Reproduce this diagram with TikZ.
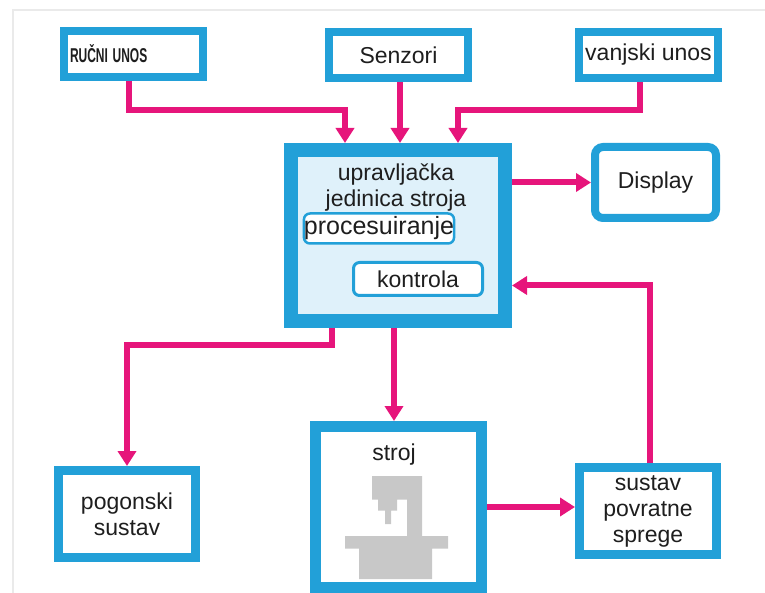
\documentclass[tikz,border=0pt]{standalone}
\usepackage{fontspec}
\setmainfont{Liberation Sans}
\usetikzlibrary{arrows.meta}
\definecolor{boxblue}{HTML}{22A0D8}
\definecolor{arrowpink}{HTML}{E6157B}
\definecolor{panel}{HTML}{DFF1FA}
\definecolor{machgray}{HTML}{C8C8C8}
\definecolor{framegray}{HTML}{EAEAEA}
\definecolor{txt}{HTML}{1E1E1E}
\tikzset{b/.style={rectangle,draw=boxblue,fill=white,line width=8pt,text=txt,align=center,inner sep=0pt}}
\tikzset{s/.style={rectangle,draw=boxblue,fill=white,line width=2.5pt,rounded corners=6pt,text=txt,inner sep=0pt}}
\tikzset{f/.style={draw=arrowpink,line width=6pt,-{Triangle[width=18pt,length=15pt]}}}

\begin{document}
\begin{tikzpicture}[x=1pt,y=-1pt,font=\fontsize{23pt}{26pt}\selectfont]
      \useasboundingbox (0,0) rectangle (765,593);
      \draw[framegray,line width=1.5pt] (765,10) -- (13,10) -- (13,593);
      % inputs
      \node[b,minimum width=139pt,minimum height=46pt,text width=127pt,align=left] (rucni) at (133.5,54) {\fontsize{20pt}{22pt}\selectfont\scalebox{0.6}[1]{\bfseries RUČNI UNOS}};
      \node[b,minimum width=139pt,minimum height=46pt] (senzori) at (398.5,55) {Senzori};
      \node[b,minimum width=139pt,minimum height=46pt] (vanjski) at (648.5,55) {vanjski unos};
      % control unit
      \node[b,line width=14pt,fill=panel,minimum width=214pt,minimum height=171pt] (main) at (398,235.5) {};
      \node[text=txt,align=center,inner sep=0pt] (naslov) at (396,188) {upravljačka\\jedinica stroja};
      \node[s,minimum width=143pt,minimum height=30pt,font=\fontsize{25pt}{28pt}\selectfont] (proc) at (379,228.5) {procesuiranje};
      \node[s,line width=3pt,minimum width=129pt,minimum height=33pt] (kontrola) at (418,279) {kontrola};
      \node[b,rounded corners=8pt,minimum width=121pt,minimum height=71pt] (display) at (655.5,182.5) {Display};
      % outputs
      \node[b,line width=9pt,minimum width=137pt,minimum height=87pt] (pogon) at (127,514) {pogonski\\sustav};
      \node[b,line width=11pt,minimum width=166pt,minimum height=161pt] (stroj) at (398.5,507) {};
      \node[text=txt,inner sep=0pt] (strojtxt) at (394,455) {stroj};
      \node[b,line width=9pt,minimum width=137pt,minimum height=87pt] (sprege) at (648,511) {sustav\\povratne\\sprege};
      % machine icon
      \fill[machgray] (372,476) rectangle (422,499.5) (378,499) rectangle (397,510.5) (385,510) rectangle (391,524)
        (407,499) rectangle (422,536.5) (345,536) rectangle (448,548.5) (359,548) rectangle (432,579);
        \draw[f] ([xshift=-5pt]rucni.south) |- ([xshift=-53pt,yshift=33pt]main.north) -- ([xshift=-53pt]main.north);
        \draw[f] ([xshift=1.5pt]senzori.south) -- ([xshift=2pt]main.north);
        \draw[f] ([xshift=-8.5pt]vanjski.south) |- ([xshift=60pt,yshift=33pt]main.north) -- ([xshift=60pt]main.north);
        \draw[f] (main.east |- display.west) -- (display.west);
        \draw[f] ([xshift=-66pt]main.south) -- ([xshift=-66pt,yshift=-17pt]main.south) -| (pogon.north);
        \draw[f] ([xshift=-4pt]main.south) -- ([xshift=-4.5pt]stroj.north);
        \draw[f] (stroj.east) -- (sprege.west |- stroj.east);
        \draw[f] ([xshift=2pt]sprege.north) |- ([yshift=-50pt]main.east);
\end{tikzpicture}
\end{document}
